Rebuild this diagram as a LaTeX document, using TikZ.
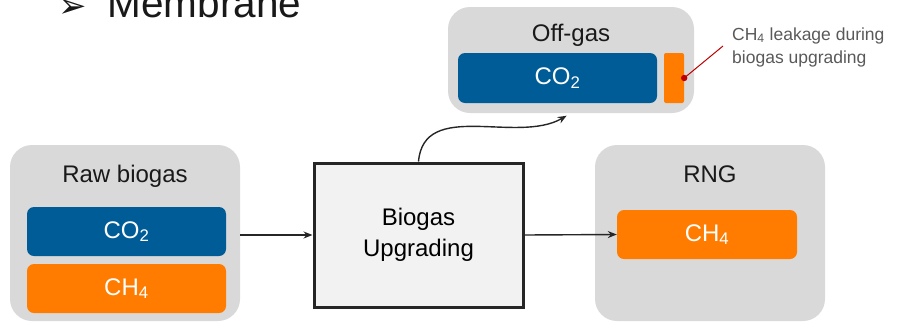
\documentclass[tikz,border=0pt]{standalone}
\usepackage{fontspec}
\setmainfont{Liberation Sans}
\newfontfamily\dingfont{DejaVu Sans}
\usetikzlibrary{arrows.meta}
\definecolor{gasblue}{HTML}{005C97}
\definecolor{gasorange}{HTML}{FF7C00}
\definecolor{panelgray}{HTML}{D9D9D9}
\definecolor{unitgray}{HTML}{F2F2F2}
\definecolor{darkline}{HTML}{262626}
\definecolor{notegray}{HTML}{595959}
\definecolor{leakred}{HTML}{C00000}
\begin{document}
\begin{tikzpicture}[x=1pt, y=-1pt, every node/.style={align=center, inner sep=0pt}]
\tikzset{
  panel/.style={fill=panelgray, rounded corners=22pt, minimum width=230pt, minimum height=176pt},
  paneltitle/.style={font=\fontsize{24}{28}\selectfont, text=black!90},
  gasbox/.style={rounded corners=7pt, text=white, font=\fontsize{24}{28}\selectfont, minimum width=199pt, minimum height=49pt},
  unit/.style={draw=darkline, line width=3pt, fill=unitgray, minimum width=209pt, minimum height=144pt, font=\fontsize{24}{31}\selectfont},
  flow/.style={-{Stealth[length=9pt, width=7pt]}, line width=1.4pt, draw=darkline},
  note/.style={font=\fontsize{17.5}{23}\selectfont, text=notegray, align=left}
}
\useasboundingbox (0,0) rectangle (902,322);

% heading, cut at the top edge
\node[anchor=base west, font=\fontsize{40.5}{44}\selectfont, text=black!90] (heading) at (58,17) {{\dingfont\fontsize{34}{36}\selectfont ➢}\hspace{21pt}Membrane};

% panels
\node[panel] (raw) at (125,233) {};
\node[paneltitle] (rawtitle) at (125,176) {Raw biogas};
\node[gasbox, fill=gasblue] (rawco2) at (126.5,231.5) {CO\textsubscript{2}};
\node[gasbox, fill=gasorange] (rawch4) at (126.5,288.5) {CH\textsubscript{4}};

\node[panel, minimum width=246pt, minimum height=106pt] (offgas) at (571,60) {};
\node[paneltitle] (offgastitle) at (571,35) {Off-gas};
\node[gasbox, fill=gasblue, minimum height=50pt] (offco2) at (557.5,78) {CO\textsubscript{2}};
\node[fill=gasorange, rounded corners=2pt, minimum width=20pt, minimum height=50pt] (leak) at (674,78) {};

\node[panel] (rng) at (710,233) {};
\node[paneltitle] (rngtitle) at (710,174) {RNG};
\node[gasbox, fill=gasorange, minimum width=180pt] (rngch4) at (707,234.5) {CH\textsubscript{4}};

\node[unit] (upgrading) at (418.5,235) {Biogas\\Upgrading};

\node[note, anchor=west] (leaknote) at (732,47) {CH\textsubscript{4} leakage during\\biogas upgrading};

% flows
\draw[flow] (raw.east |- upgrading.west) -- (upgrading.west);
\draw[flow] (upgrading.east) -- (rngch4.west);
\draw[flow, shorten >=5pt] (upgrading.north) to[out=85, in=-150] (offgas.south);

% leakage callout
\draw[leakred, line width=1pt] (leak.east) -- ([xshift=-9pt, yshift=1pt]leaknote.west);
\fill[leakred] (leak.east) circle (3.2pt);
\end{tikzpicture}
\end{document}
